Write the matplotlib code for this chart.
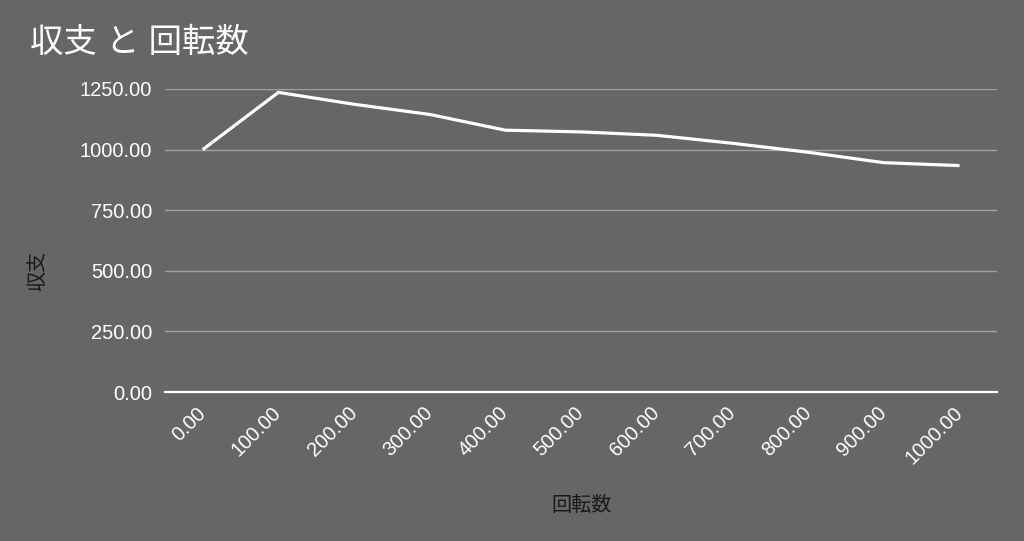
import matplotlib
matplotlib.use("Agg")
import matplotlib.pyplot as plt

plt.rcParams['font.family'] = ['Liberation Sans', 'Noto Sans CJK JP', 'DejaVu Sans']

# data
spins = [0, 100, 200, 300, 400, 500, 600, 700, 800, 900, 1000]
balance = [1000, 1236, 1187, 1145, 1080, 1073, 1059, 1026, 989, 946, 934]
x_labels = [f"{v:.2f}" for v in spins]
y_ticks = [0, 250, 500, 750, 1000, 1250]

bg = '#666666'
fig = plt.figure(figsize=(10.24, 5.41), dpi=100, facecolor=bg)
ax = fig.add_axes([0.161, 0.2754, 0.813, 0.5601])
ax.set_facecolor(bg)

pos = list(range(len(spins)))
ax.plot(pos, balance, color='white', linewidth=2.3, solid_capstyle='butt', zorder=3)

ax.set_xlim(-0.5, len(spins) - 0.5)
ax.set_ylim(0, 1250)
ax.set_yticks(y_ticks)
ax.set_yticklabels([f"{v:.2f}" for v in y_ticks], color='white', fontsize=14.5)
ax.set_xticks(pos)
ax.set_xticklabels(x_labels, color='white', fontsize=14.5, rotation=45,
                   ha='right', va='center', rotation_mode='anchor')
ax.tick_params(axis='both', length=0)
ax.tick_params(axis='y', pad=9)
ax.tick_params(axis='x', pad=13)

for v in y_ticks[1:]:
    ax.axhline(v, color='#a0a0a0', linewidth=1, zorder=1)
ax.axhline(0, color='white', linewidth=1.6, zorder=2, clip_on=False)

for s in ax.spines.values():
    s.set_visible(False)

ax.set_xlabel('回転数', fontsize=14.5, color='#1a1a1a', labelpad=20)
fig.text(0.037, 0.5, '収支', fontsize=14.5, color='#1a1a1a', rotation=90,
         ha='center', va='center')

fig.text(0.029, 0.92, '収支 と 回転数', fontsize=24, color='white', ha='left', va='center')

fig.savefig('out.png', dpi=100, facecolor=bg)
